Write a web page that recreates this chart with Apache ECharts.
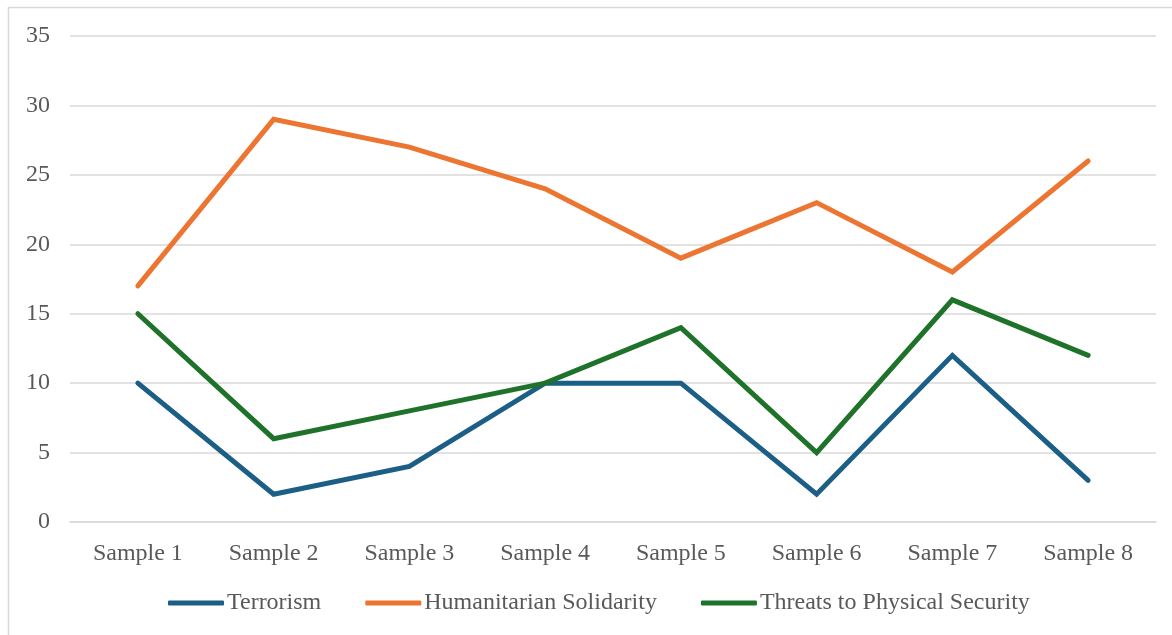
<!DOCTYPE html>
<html>
<head>
<meta charset="utf-8">
<script src="https://cdn.jsdelivr.net/npm/echarts@6/dist/echarts.min.js"></script>
<style>
  html, body { margin: 0; padding: 0; background: #fff; }
  #chart { width: 1172px; height: 635px; }
</style>
</head>
<body>
<div id="chart"></div>
<script>
// Categories and series values
const categories = ['Sample 1', 'Sample 2', 'Sample 3', 'Sample 4', 'Sample 5', 'Sample 6', 'Sample 7', 'Sample 8'];
const terrorism = [10, 2, 4, 10, 10, 2, 12, 3];
const humanitarianSolidarity = [17, 29, 27, 24, 19, 23, 18, 26];
const threatsToPhysicalSecurity = [15, 6, 8, 10, 14, 5, 16, 12];
const yTicks = { min: 0, max: 35, interval: 5 };

const fontFamily = '"Liberation Serif", "Times New Roman", serif';
const textColor = '#595959';

const chart = echarts.init(document.getElementById('chart'), null, { renderer: 'canvas' });

function lineSeries(name, data, color) {
  return {
    name: name,
    type: 'line',
    data: data,
    symbol: 'none',
    smooth: false,
    lineStyle: { width: 5, color: color, join: 'miter', cap: 'round' },
    itemStyle: { color: color },
    emphasis: { disabled: true }
  };
}

chart.setOption({
  animation: false,
  backgroundColor: '#ffffff',
  textStyle: { fontFamily: fontFamily },
  graphic: [{
    type: 'rect',
    silent: true,
    shape: { x: 8.5, y: 7.5, width: 1200, height: 700 },
    style: { fill: 'none', stroke: '#d9d9d9', lineWidth: 1.5 }
  }],
  grid: { left: 70, right: 16, top: 36, bottom: 113 },
  legend: {
    bottom: 15,
    left: 163,
    itemWidth: 56,
    itemHeight: 5,
    itemGap: 44,
    icon: 'roundRect',
    textStyle: { fontFamily: fontFamily, fontSize: 24, color: textColor, padding: [0, 0, 0, -2] },
    data: ['Terrorism', 'Humanitarian Solidarity', 'Threats to Physical Security']
  },
  xAxis: {
    type: 'category',
    data: categories,
    boundaryGap: true,
    axisLine: { show: true, lineStyle: { color: '#d9d9d9', width: 1.5 } },
    axisTick: { show: false },
    axisLabel: { fontFamily: fontFamily, fontSize: 24, color: textColor, margin: 20 }
  },
  yAxis: {
    type: 'value',
    min: yTicks.min,
    max: yTicks.max,
    interval: yTicks.interval,
    axisLine: { show: false },
    axisTick: { show: false },
    splitLine: { lineStyle: { color: '#d9d9d9', width: 1.5 } },
    axisLabel: { fontFamily: fontFamily, fontSize: 24, color: textColor, margin: 20 }
  },
  series: [
    lineSeries('Terrorism', terrorism, '#1b5e86'),
    lineSeries('Humanitarian Solidarity', humanitarianSolidarity, '#ed7532'),
    lineSeries('Threats to Physical Security', threatsToPhysicalSecurity, '#1f7229')
  ]
});
</script>
</body>
</html>
